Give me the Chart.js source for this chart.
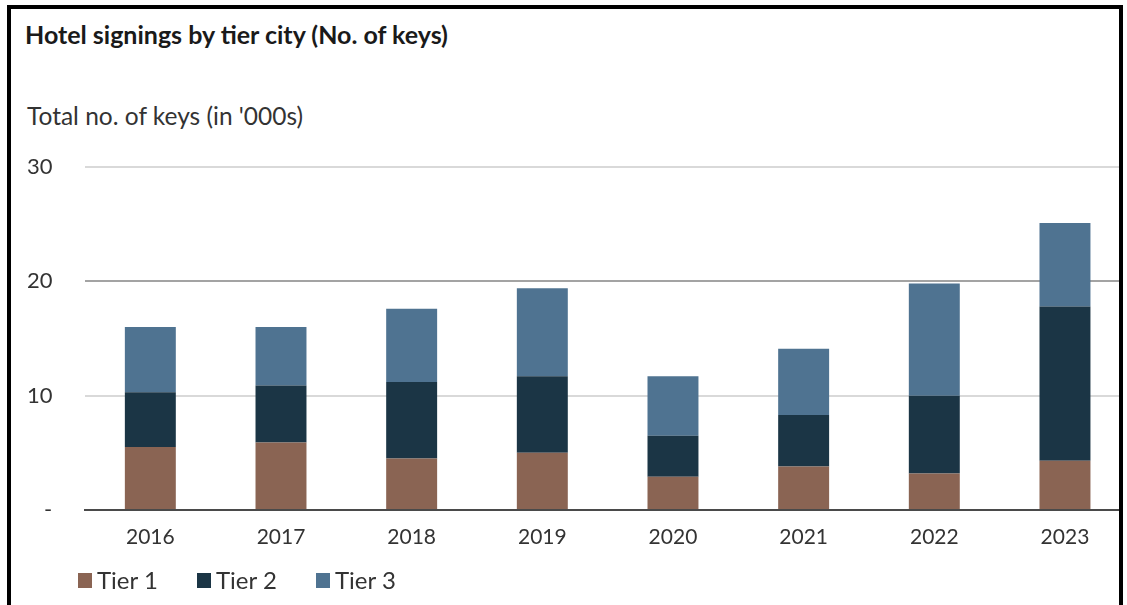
<!DOCTYPE html>
<html>
<head>
<meta charset="utf-8">
<title>Hotel signings by tier city</title>
<script src="https://cdn.jsdelivr.net/npm/chart.js@4"></script>
<style>
  body { margin: 0; background: #fff; font-family: Lato, "Open Sans", sans-serif; }
  #frame {
    position: absolute; left: 7px; top: 5px;
    width: 1108px; height: 700px;
    border: 4px solid #000; overflow: hidden;
  }
  #title {
    position: absolute; left: 14px; top: 10px;
    font-size: 25px; line-height: 30px; font-weight: bold; color: #1a1a1a;
  }
  #subtitle {
    position: absolute; left: 16px; top: 93px;
    font-size: 24.5px; line-height: 28px; color: #333;
  }
  #myChart { position: absolute; left: 0; top: 0; }
  #legend {
    position: absolute; left: 67px; top: 558px;
    display: flex; font-size: 24px; line-height: 26px; color: #333;
  }
  .item { display: flex; align-items: center; width: 119px; }
  .swatch { width: 14px; height: 15px; margin-right: 5px; }
</style>
</head>
<body>
<div id="frame">
  <div id="title">Hotel signings by tier city (No. of keys)</div>
  <div id="subtitle">Total no. of keys (in '000s)</div>
  <canvas id="myChart" width="1140" height="560"></canvas>
  <div id="legend"></div>
</div>
<script>
// keys signed per year, in thousands
const years = ['2016', '2017', '2018', '2019', '2020', '2021', '2022', '2023'];
const tier1 = [5.5, 5.9, 4.5, 5.0, 2.9, 3.8, 3.2, 4.3];
const tier2 = [4.8, 5.0, 6.7, 6.7, 3.6, 4.5, 6.8, 13.5];
const tier3 = [5.7, 5.1, 6.4, 7.7, 5.2, 5.8, 9.8, 7.3];
const yTicks = [0, 10, 20, 30];

const tierColors = ['#8a6453', '#1b3545', '#4f7391'];

const ctx = document.getElementById('myChart').getContext('2d');

const chart = new Chart(ctx, {
  type: 'bar',
  data: {
    labels: years,
    datasets: [
      { label: 'Tier 1', data: tier1, backgroundColor: tierColors[0] },
      { label: 'Tier 2', data: tier2, backgroundColor: tierColors[1] },
      { label: 'Tier 3', data: tier3, backgroundColor: tierColors[2] }
    ]
  },
  options: {
    responsive: false,
    animation: false,
    layout: { padding: { left: 16, right: 20.7, top: 158, bottom: 0 } },
    datasets: { bar: { barPercentage: 0.39, categoryPercentage: 1 } },
    plugins: {
      legend: { display: false },
      tooltip: { enabled: false }
    },
    scales: {
      x: {
        stacked: true,
        afterFit: s => { s.height = 59; },
        grid: { display: false, drawTicks: false },
        border: { display: true, color: '#4a4a4a', width: 2 },
        ticks: { padding: 15, color: '#333', font: { family: 'Lato', size: 21 } }
      },
      y: {
        stacked: true,
        min: yTicks[0],
        max: yTicks[yTicks.length - 1],
        afterFit: s => { s.width = 58; },
        afterBuildTicks: s => { s.ticks = yTicks.map(v => ({ value: v })); },
        grid: {
          drawTicks: false,
          lineWidth: 2,
          color: c => c.tick.value === 0 ? 'rgba(0,0,0,0)' : (c.tick.value === 20 ? '#a3a3a3' : '#d9d9d9')
        },
        border: { display: false },
        ticks: {
          crossAlign: 'far',
          color: '#333',
          font: { family: 'Lato', size: 22 },
          callback: v => v === 0 ? '   -' : v
        }
      }
    }
  }
});

// legend from the chart's own datasets
const legendBox = document.getElementById('legend');
chart.data.datasets.forEach(ds => {
  const item = document.createElement('div');
  item.className = 'item';
  const swatch = document.createElement('span');
  swatch.className = 'swatch';
  swatch.style.background = ds.backgroundColor;
  item.appendChild(swatch);
  item.appendChild(document.createTextNode(ds.label));
  legendBox.appendChild(item);
});
</script>
</body>
</html>
